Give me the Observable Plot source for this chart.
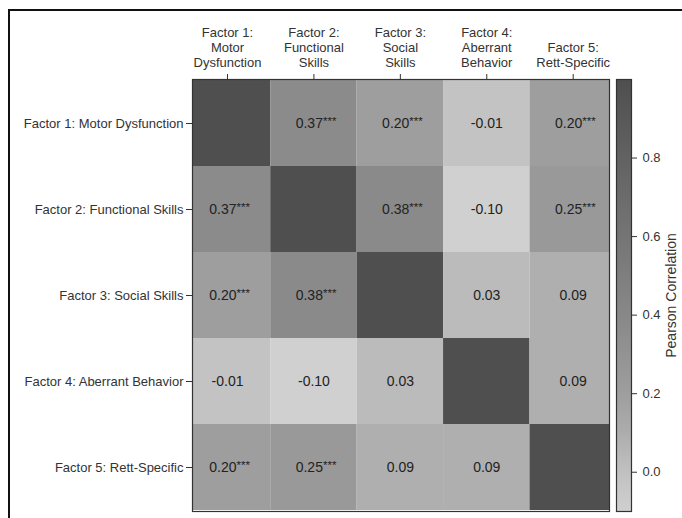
<!DOCTYPE html>
<html>
<head>
<meta charset="utf-8">
<script src="https://cdn.jsdelivr.net/npm/d3@7"></script>
<script src="https://cdn.jsdelivr.net/npm/@observablehq/plot@0.6"></script>
<style>
  html, body { margin: 0; padding: 0; background: #fff; overflow: hidden; }
  #wrap { position: relative; width: 682px; height: 518px; overflow: hidden; }
  #border { position: absolute; left: 7.5px; top: 8.5px; width: 720px; height: 600px;
            border-top: 2px solid #111; border-left: 2px solid #111; box-sizing: border-box; }
  #wrap svg { position: absolute; left: 0; top: 0; }
</style>
</head>
<body>
<div id="wrap"><div id="border"></div></div>
<script>
// ---- data ----
const rowLabels = [
  "Factor 1: Motor Dysfunction",
  "Factor 2: Functional Skills",
  "Factor 3: Social Skills",
  "Factor 4: Aberrant Behavior",
  "Factor 5: Rett-Specific"
];
const colLabels = [
  "Factor 1:\nMotor\nDysfunction",
  "Factor 2:\nFunctional\nSkills",
  "Factor 3:\nSocial\nSkills",
  "Factor 4:\nAberrant\nBehavior",
  "Factor 5:\nRett-Specific"
];
const correlations = [
  [1.00, 0.37, 0.20, -0.01, 0.20],
  [0.37, 1.00, 0.38, -0.10, 0.25],
  [0.20, 0.38, 1.00, 0.03, 0.09],
  [-0.01, -0.10, 0.03, 1.00, 0.09],
  [0.20, 0.25, 0.09, 0.09, 1.00]
];
const significance = [
  ["", "***", "***", "", "***"],
  ["***", "", "***", "", "***"],
  ["***", "***", "", "", ""],
  ["", "", "", "", ""],
  ["***", "***", "", "", ""]
];
const colorbarTicks = [0.0, 0.2, 0.4, 0.6, 0.8];
const colorTitle = "Pearson Correlation";

// ---- table ----
const table = [];
correlations.forEach((row, i) => row.forEach((v, j) => {
  table.push({row: rowLabels[i], col: j + 1, value: v, stars: significance[i][j], diag: i === j});
}));
const labelled = table.filter(d => !d.diag);
const withStars = labelled.filter(d => d.stars);
const noStars = labelled.filter(d => !d.stars);

const colorOpts = {
  type: "linear",
  domain: [-0.10, 0.0, 0.10, 0.20, 0.40, 1.00],
  range: ["#d0d0d0", "#c1c1c1", "#adadad", "#9e9e9e", "#888888", "#4f4f4f"],
  interpolate: "rgb"
};
const fmt = v => v.toFixed(2);
const font = "Liberation Sans, Arial, sans-serif";

const main = Plot.plot({
  width: 682, height: 518,
  marginLeft: 192, marginRight: 73, marginTop: 79, marginBottom: 7,
  style: {fontFamily: font, fontSize: "13px", color: "#333", background: "transparent"},
  x: {type: "linear", domain: [0.595, 5.42]},
  y: {type: "band", domain: rowLabels, padding: 0},
  color: colorOpts,
  marks: [
    Plot.barX(table, {x1: d => d.col - 0.5, x2: d => d.col + 0.5, y: "row", fill: "value", clip: true, inset: 0}),
    Plot.text(noStars, {x: "col", y: "row", text: d => fmt(d.value), fontSize: 14, fill: "#222"}),
    Plot.text(withStars, {x: "col", y: "row", text: d => fmt(d.value), fontSize: 14, fill: "#222", textAnchor: "end", dx: 9}),
    Plot.text(withStars, {x: "col", y: "row", text: "stars", fontSize: 11.5, fill: "#222", textAnchor: "start", dx: 9, dy: -2}),
    Plot.frame({stroke: "#333", strokeWidth: 1.2}),
    Plot.axisX({anchor: "top", ticks: [1, 2, 3, 4, 5], tickFormat: i => colLabels[i - 1], tickSize: 6, tickPadding: 7, lineHeight: 1.15, label: null, fontSize: 13}),
    Plot.axisY({anchor: "left", tickSize: 6, tickPadding: 3, label: null, fontSize: 13})
  ]
});

const bar = Plot.plot({
  width: 682, height: 518,
  marginLeft: 616, marginRight: 51, marginTop: 79, marginBottom: 7,
  style: {fontFamily: font, fontSize: "13px", color: "#333", background: "transparent"},
  x: {domain: [0, 1], axis: null},
  y: {domain: [-0.10, 1.00]},
  color: colorOpts,
  marks: [
    Plot.raster({fill: (x, y) => y, x1: 0, x2: 1, y1: -0.10, y2: 1.00, width: 2, height: 432, imageRendering: "auto"}),
    Plot.frame({stroke: "#333", strokeWidth: 1.2}),
    Plot.axisY({anchor: "right", ticks: colorbarTicks, tickFormat: v => v.toFixed(1), tickSize: 5, tickPadding: 6,
                label: colorTitle, labelAnchor: "center", labelOffset: 44, labelArrow: "none", fontSize: 13})
  ]
});
bar.querySelectorAll("[aria-label='y-axis label'] text, [aria-label='y-axis label']").forEach(n => n.style && (n.style.fontSize = "14px"));

const wrap = document.getElementById("wrap");
wrap.appendChild(main);
wrap.appendChild(bar);
</script>
</body>
</html>
